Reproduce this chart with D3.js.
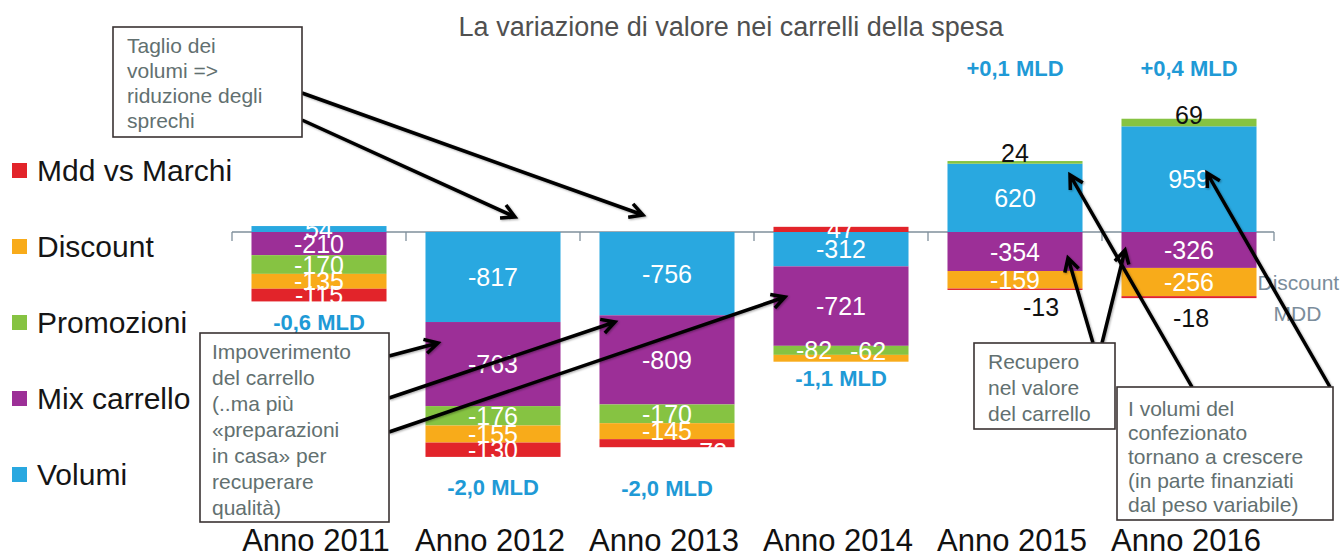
<!DOCTYPE html>
<html>
<head>
<meta charset="utf-8">
<script src="https://cdn.jsdelivr.net/npm/d3@7"></script>
<style>
  body { margin: 0; background: #fff; }
  text { font-family: "Liberation Sans", Arial, sans-serif; }
</style>
</head>
<body>
<svg id="chart" width="1341" height="558"></svg>
<script>
// valori (milioni di euro)
const years = ["Anno 2011", "Anno 2012", "Anno 2013", "Anno 2014", "Anno 2015", "Anno 2016"];
const volumi = [54, -817, -756, -312, 620, 959];
const mix = [-210, -763, -809, -721, -354, -326];
const promozioni = [-170, -176, -170, -82, 24, 69];
const discount = [-135, -155, -145, -62, -159, -256];
const mdd = [-115, -130, -73, 47, -13, -18];
const totals = ["-0,6 MLD", "-2,0 MLD", "-2,0 MLD", "-1,1 MLD", "+0,1 MLD", "+0,4 MLD"];

const legendItems = [
  { key: "mdd", label: "Mdd vs Marchi" },
  { key: "discount", label: "Discount" },
  { key: "promozioni", label: "Promozioni" },
  { key: "mix", label: "Mix carrello" },
  { key: "volumi", label: "Volumi" }
];

const keys = ["volumi", "mix", "promozioni", "discount", "mdd"];
const colors = {
  volumi: "#29a8e0",
  mix: "#9c2f97",
  promozioni: "#86c342",
  discount: "#f8ab1a",
  mdd: "#e2242a"
};

const rows = years.map(function (y, i) {
  return { year: y, volumi: volumi[i], mix: mix[i], promozioni: promozioni[i], discount: discount[i], mdd: mdd[i] };
});

const svg = d3.select("#chart");

const x = d3.scaleBand().domain(years).range([232, 1276]).paddingInner(0.224).paddingOuter(0.112);
const y = d3.scaleLinear().domain([-2100, 1100]).range([463.4, 110.8]);

const series = d3.stack().keys(keys).offset(d3.stackOffsetDiverging)(rows);

// titolo
svg.append("text")
  .attr("x", 731).attr("y", 27)
  .attr("text-anchor", "middle").attr("dominant-baseline", "central")
  .style("font-size", "27px").style("fill", "#505050")
  .text("La variazione di valore nei carrelli della spesa");

// asse dello zero con tacche tra le categorie
const axis = svg.append("g");
axis.append("line")
  .attr("x1", x.range()[0]).attr("x2", x.range()[1] - 2)
  .attr("y1", y(0)).attr("y2", y(0))
  .style("stroke", "#7f8f9b").style("stroke-width", 1.3);
axis.selectAll("line.tick")
  .data(d3.range(years.length + 1))
  .enter().append("line")
  .attr("class", "tick")
  .attr("x1", function (i) { return x.range()[0] + i * x.step() - (i === years.length ? 2 : 0); })
  .attr("x2", function (i) { return x.range()[0] + i * x.step() - (i === years.length ? 2 : 0); })
  .attr("y1", y(0)).attr("y2", y(0) + 9)
  .style("stroke", "#7f8f9b").style("stroke-width", 1.3);

// barre
const layers = svg.append("g").selectAll("g")
  .data(series)
  .enter().append("g")
  .style("fill", function (s) { return colors[s.key]; });

layers.selectAll("rect")
  .data(function (s) { return s; })
  .enter().append("rect")
  .attr("x", function (d) { return x(d.data.year); })
  .attr("y", function (d) { return y(d[1]); })
  .attr("width", x.bandwidth())
  .attr("height", function (d) { return y(d[0]) - y(d[1]); });

// etichette dei valori
const tweak = {
  "mdd-2": { dx: 42, dy: 9 },
  "promozioni-3": { dx: -27, dy: 0 },
  "discount-3": { dx: 27, dy: -7 },
  "promozioni-4": { above: 8, color: "#111" },
  "promozioni-5": { above: 4, color: "#111" },
  "mdd-4": { below: 17, dx: 26, color: "#111" },
  "mdd-5": { below: 20, dx: 2, color: "#111" }
};

const labels = [];
series.forEach(function (s) {
  s.forEach(function (d, i) {
    const t = tweak[s.key + "-" + i] || {};
    let cy = (y(d[0]) + y(d[1])) / 2 + (t.dy || 0);
    if (t.above !== undefined) cy = y(d[1]) - t.above;
    if (t.below !== undefined) cy = y(d[0]) + t.below;
    labels.push({
      x: x(d.data.year) + x.bandwidth() / 2 + (t.dx || 0),
      y: cy,
      v: d.data[s.key],
      color: t.color || "#fff"
    });
  });
});

svg.append("g").selectAll("text")
  .data(labels)
  .enter().append("text")
  .attr("x", function (d) { return d.x; })
  .attr("y", function (d) { return d.y; })
  .attr("text-anchor", "middle").attr("dominant-baseline", "central")
  .style("font-size", "25px")
  .style("fill", function (d) { return d.color; })
  .text(function (d) { return d.v; });

// totali per anno
const totalGap = [21, 31, 41, 17];
svg.append("g").selectAll("text")
  .data(totals)
  .enter().append("text")
  .attr("x", function (d, i) { return x(years[i]) + x.bandwidth() / 2; })
  .attr("y", function (d, i) {
    if (d.charAt(0) === "+") return 68;
    const low = d3.min(series, function (s) { return s[i][0]; });
    return y(low) + totalGap[i];
  })
  .attr("text-anchor", "middle").attr("dominant-baseline", "central")
  .style("font-size", "22px").style("font-weight", "bold").style("fill", "#1f9ad6")
  .text(function (d) { return d; });

// etichette categorie
svg.append("g").selectAll("text")
  .data(years)
  .enter().append("text")
  .attr("x", function (d) { return x(d) + x.bandwidth() / 2 - 3; })
  .attr("y", 540)
  .attr("text-anchor", "middle").attr("dominant-baseline", "central")
  .style("font-size", "31px").style("fill", "#111")
  .text(function (d) { return d; });

// legenda
const leg = svg.append("g").selectAll("g")
  .data(legendItems)
  .enter().append("g")
  .attr("transform", function (d, i) { return "translate(12," + (170 + i * 76) + ")"; });
leg.append("rect")
  .attr("x", 0).attr("y", -7).attr("width", 15).attr("height", 15)
  .style("fill", function (d) { return colors[d.key]; });
leg.append("text")
  .attr("x", 25).attr("y", 0)
  .attr("dominant-baseline", "central")
  .style("font-size", "30px").style("fill", "#151515")
  .text(function (d) { return d.label; });

// etichette a destra dell'ultimo anno
const last = years[years.length - 1];
const discLast = series[3][years.length - 1];
svg.append("text")
  .attr("x", x(last) + x.bandwidth() + 1)
  .attr("y", (y(discLast[0]) + y(discLast[1])) / 2)
  .attr("dominant-baseline", "central")
  .style("font-size", "21px").style("fill", "#7b8d9b")
  .text("Discount");
svg.append("text")
  .attr("x", x(last) + x.bandwidth() + 17)
  .attr("y", 313)
  .attr("dominant-baseline", "central")
  .style("font-size", "21px").style("fill", "#7b8d9b")
  .text("MDD");

// frecce di commento
const defs = svg.append("defs");
const f = defs.append("filter").attr("id", "shadow").attr("x", "-20%").attr("y", "-20%").attr("width", "140%").attr("height", "140%");
f.append("feDropShadow").attr("dx", 1).attr("dy", 1).attr("stdDeviation", 1.2).attr("flood-opacity", 0.35);

const arrows = [
  [302, 93, 643, 215],
  [302, 120, 515, 217],
  [389, 356, 438, 343],
  [389, 398, 615, 322],
  [389, 432, 785, 297],
  [1093, 343, 1068, 258],
  [1102, 343, 1125, 250],
  [1192, 387, 1070, 175],
  [1330, 387, 1207, 173]
];

function arrowPath(a) {
  const ang = Math.atan2(a[3] - a[1], a[2] - a[0]);
  const len = 15, spread = 0.5;
  const p = d3.path();
  p.moveTo(a[0], a[1]);
  p.lineTo(a[2], a[3]);
  p.moveTo(a[2] - len * Math.cos(ang - spread), a[3] - len * Math.sin(ang - spread));
  p.lineTo(a[2], a[3]);
  p.lineTo(a[2] - len * Math.cos(ang + spread), a[3] - len * Math.sin(ang + spread));
  return p.toString();
}

svg.append("g").attr("filter", "url(#shadow)").selectAll("path")
  .data(arrows)
  .enter().append("path")
  .attr("d", arrowPath)
  .style("fill", "none").style("stroke", "#000").style("stroke-width", 3.5)
  .style("stroke-linejoin", "miter");

// riquadri di testo
const notes = [
  { x: 113, y: 27, w: 189, h: 110, tx: 127, ty: 45, lh: 25,
    lines: ["Taglio dei", "volumi =>", "riduzione degli", "sprechi"] },
  { x: 200, y: 333, w: 189, h: 189, tx: 212, ty: 351, lh: 26,
    lines: ["Impoverimento", "del carrello", "(..ma più", "«preparazioni", "in casa» per", "recuperare", "qualità)"] },
  { x: 974, y: 343, w: 141, h: 86, tx: 988, ty: 361, lh: 26,
    lines: ["Recupero", "nel valore", "del carrello"] },
  { x: 1117, y: 387, w: 216, h: 133, tx: 1128, ty: 408, lh: 24,
    lines: ["I volumi del", "confezionato", "tornano a crescere", "(in parte finanziati", "dal peso variabile)"] }
];

const note = svg.append("g").selectAll("g")
  .data(notes)
  .enter().append("g");
note.append("rect")
  .attr("x", function (d) { return d.x; })
  .attr("y", function (d) { return d.y; })
  .attr("width", function (d) { return d.w; })
  .attr("height", function (d) { return d.h; })
  .style("fill", "#fff").style("stroke", "#3a3232").style("stroke-width", 1.6);
note.each(function (d) {
  d3.select(this).selectAll("text")
    .data(d.lines)
    .enter().append("text")
    .attr("x", d.tx)
    .attr("y", function (l, i) { return d.ty + i * d.lh; })
    .attr("dominant-baseline", "central")
    .style("font-size", "21px").style("fill", "#627070")
    .text(function (l) { return l; });
});
</script>
</body>
</html>
